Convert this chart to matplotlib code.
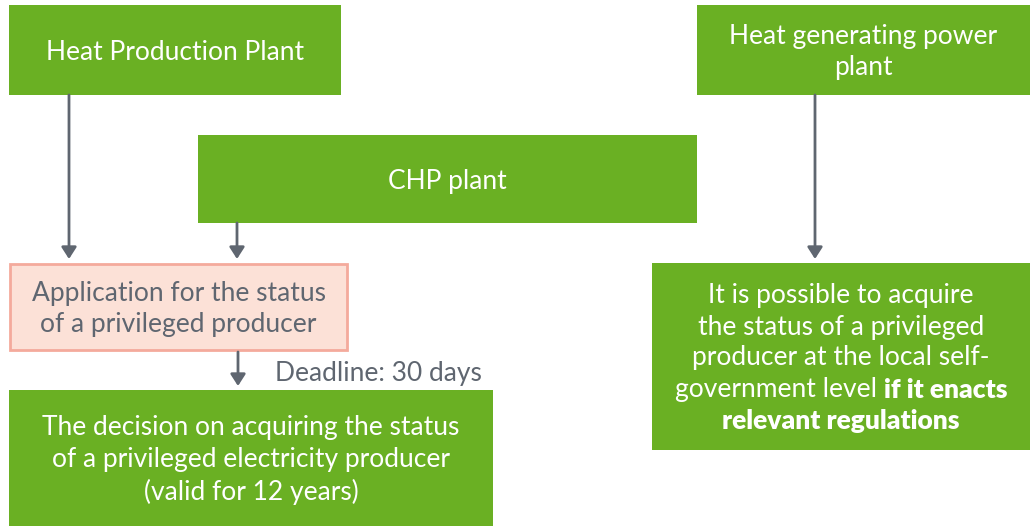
import matplotlib.pyplot as plt
from matplotlib.patches import Rectangle

plt.rcParams['font.family'] = ['Lato', 'DejaVu Sans']

GREEN = '#6ab023'
GREY = '#5f6670'
PINK = '#fce1d7'
PINK_EDGE = '#f4aa9c'

# boxes: label, (x0, y0, x1, y1) in pixel space of the picture
box_names = ['heat_plant', 'heat_power', 'chp', 'application', 'decision', 'local']
box_labels = ['Heat Production Plant',
              'Heat generating power\nplant',
              'CHP plant',
              'Application for the status\nof a privileged producer',
              'The decision on acquiring the status\nof a privileged electricity producer\n(valid for 12 years)',
              None]
box_extents = [(9, 5, 341, 95),
               (697, 5, 1030, 95),
               (198, 135, 697, 223),
               (9, 263, 348, 351),
               (9, 390, 493, 526),
               (652, 263, 1030, 450)]

# arrows: x, y start, y end
arrows = [(69, 95, 259), (237, 223, 259), (815, 95, 259), (238, 352, 386)]

fig = plt.figure(figsize=(10.35, 5.26), dpi=100)
ax = fig.add_axes([0, 0, 1, 1])
ax.set_xlim(0, 1035)
ax.set_ylim(526, 0)
ax.axis('off')

fs = 19
for name, label, (x0, y0, x1, y1) in zip(box_names, box_labels, box_extents):
    if name == 'application':
        ax.add_patch(Rectangle((x0 + 1, y0 + 1), x1 - x0 - 2, y1 - y0 - 2,
                               facecolor=PINK, edgecolor=PINK_EDGE, lw=2))
        col = GREY
    else:
        ax.add_patch(Rectangle((x0, y0), x1 - x0, y1 - y0, facecolor=GREEN, lw=0))
        col = 'white'
    if label:
        ax.text((x0 + x1) / 2, (y0 + y1) / 2 + 2, label, ha='center', va='center',
                color=col, fontsize=fs, linespacing=1.32)

for x, ys, ye in arrows:
    ax.annotate('', xy=(x, ye), xytext=(x, ys),
                arrowprops=dict(arrowstyle='-|>,head_length=0.7,head_width=0.45',
                                color=GREY, lw=2, shrinkA=0, shrinkB=0))

ax.text(275, 374, 'Deadline: 30 days', ha='left', va='center', color=GREY, fontsize=fs)

# right box text with bold tail
cx = (652 + 1030) / 2
lines = ['It is possible to acquire', 'the status of a privileged',
         'producer at the local self-']
ys = [295, 327, 358]
for s, y in zip(lines, ys):
    ax.text(cx, y, s, ha='center', va='center', color='white', fontsize=fs)

fig.canvas.draw()
r = fig.canvas.get_renderer()
t1 = ax.text(0, 390, 'government level ', ha='left', va='center', color='white', fontsize=fs)
t2 = ax.text(0, 390, 'if it enacts', ha='left', va='center', color='white',
             fontsize=fs, fontweight='heavy')
w1 = t1.get_window_extent(r).width
w2 = t2.get_window_extent(r).width
left = cx - (w1 + w2) / 2
t1.set_x(left)
t2.set_x(left + w1)
ax.text(cx, 421, 'relevant regulations', ha='center', va='center', color='white',
        fontsize=fs, fontweight='heavy')

fig.savefig('out.png', dpi=100)
